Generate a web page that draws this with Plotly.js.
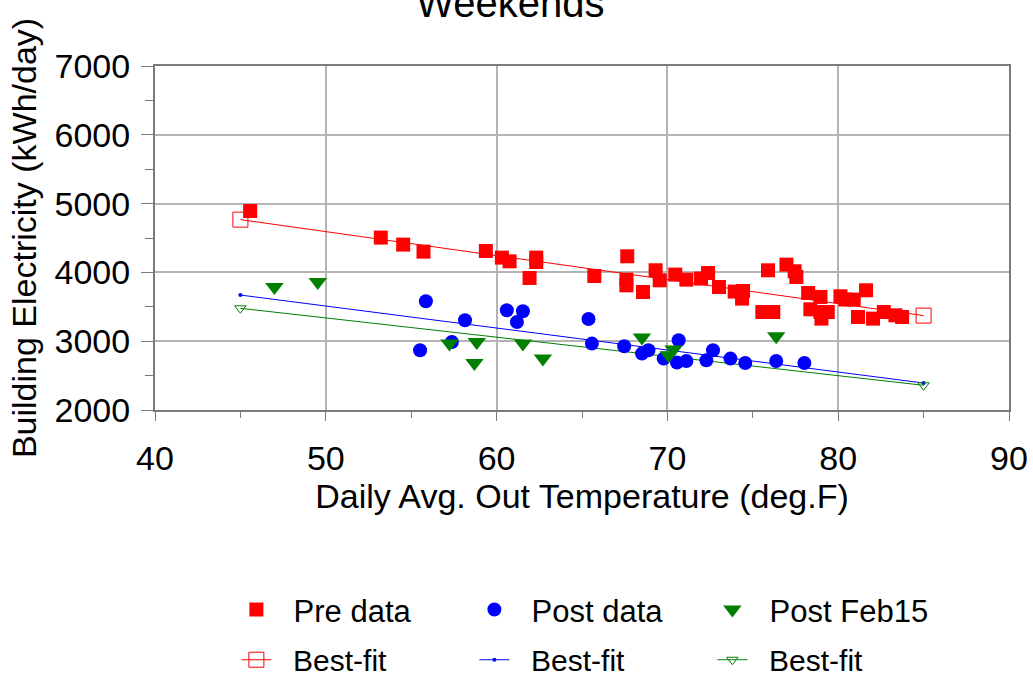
<!DOCTYPE html>
<html>
<head>
<meta charset="utf-8">
<script src="https://cdn.plot.ly/plotly-3.0.1.min.js"></script>
<style>html,body{margin:0;padding:0;background:#fff;}#chart{width:1033px;height:679px;}</style>
</head>
<body>
<div id="chart"></div>
<script>
// Pre data (red squares)
var preX = [45.57,53.22,54.53,55.72,59.37,60.31,60.76,62.32,62.32,61.93,65.72,67.65,67.6,67.6,68.57,69.31,69.55,70.46,71.11,71.97,72.38,73.02,73.94,74.43,74.37,75.89,76.97,77.45,77.55,75.56,76.2,78.24,78.96,78.37,78.96,79.39,79.02,80.13,80.42,80.91,81.63,81.16,82.04,82.67,83.35,83.74];
var preY = [4892,4506,4404,4302,4311,4215,4161,4215,4151,3919,3948,4234,3895,3812,3715,4031,3885,3968,3895,3910,3991,3788,3721,3730,3619,4031,4113,4016,3933,3424,3424,3701,3643,3464,3424,3424,3328,3653,3605,3605,3740,3352,3328,3424,3376,3352];
// Post data (blue circles)
var postX = [55.52,55.86,57.38,58.15,60.6,61.54,61.19,65.38,65.58,67.47,68.51,68.89,69.78,70.56,71.11,70.66,72.28,72.67,73.69,74.56,76.37,78.02];
var postY = [2868,3580,2988,3304,3449,3435,3279,3323,2965,2926,2820,2868,2747,2689,2712,3013,2722,2868,2747,2683,2712,2683];
// Post Feb15 (green triangles)
var febX = [46.99,49.53,57.24,58.84,58.7,61.54,62.71,68.51,70.36,70.07,76.37];
var febY = [3788,3860,2965,2988,2683,2965,2747,3052,2878,2795,3071];
// Best-fit lines
var fitX = [45, 85];
var preFitY = [4767, 3372];
var postFitY = [3671, 2392];
var febFitY = [3478, 2359];
// Legend labels
var seriesNames = ['Pre data', 'Post data', 'Post Feb15'];
var fitName = 'Best-fit';

var FONT = 'Liberation Sans, Arial, sans-serif';
var PAD = '\u00a0\u00a0';

var traces = [
  {x: fitX, y: preFitY, type: 'scatter', mode: 'lines+markers', name: PAD + fitName, legend: 'legend2',
   line: {color: '#ff0000', width: 1}, marker: {symbol: 'square-open', size: 15, color: '#ff0000', line: {width: 1}}},
  {x: fitX, y: postFitY, type: 'scatter', mode: 'lines+markers', name: PAD + fitName, legend: 'legend2',
   line: {color: '#0000ff', width: 1}, marker: {symbol: 'circle', size: 4, color: '#0000ff'}},
  {x: fitX, y: febFitY, type: 'scatter', mode: 'lines+markers', name: PAD + fitName, legend: 'legend2',
   line: {color: '#008000', width: 1}, marker: {symbol: 'triangle-down-open', size: 10, color: '#008000', line: {width: 1}}},
  {x: preX, y: preY, type: 'scatter', mode: 'markers', name: PAD + seriesNames[0], legend: 'legend',
   marker: {symbol: 'square', size: 14, color: '#ff0000'}},
  {x: postX, y: postY, type: 'scatter', mode: 'markers', name: PAD + seriesNames[1], legend: 'legend',
   marker: {symbol: 'circle', size: 14, color: '#0000ff'}},
  {x: febX, y: febY, type: 'scatter', mode: 'markers', name: PAD + seriesNames[2], legend: 'legend',
   marker: {symbol: 'triangle-down', size: 16, color: '#008000'}}
];

var layout = {
  width: 1033, height: 679,
  paper_bgcolor: '#ffffff', plot_bgcolor: '#ffffff',
  margin: {l: 155, r: 24, t: 66, b: 269, autoexpand: false},
  font: {family: FONT, color: '#000000', size: 34},
  title: {text: 'Weekends', font: {family: FONT, size: 40, color: '#000000'}, x: 0.494, xref: 'container', xanchor: 'center', y: 0.996, yref: 'container', yanchor: 'middle'},
  xaxis: {
    range: [40, 90], dtick: 10, tick0: 40,
    showgrid: true, gridcolor: '#b4b4b4', gridwidth: 2,
    showline: true, linecolor: '#7a7a7a', linewidth: 2, mirror: true,
    ticks: 'outside', ticklen: 9, tickwidth: 1, tickcolor: '#7a7a7a',
    minor: {dtick: 5, ticks: 'outside', ticklen: 6, tickcolor: '#7a7a7a', showgrid: false},
    tickfont: {family: FONT, size: 34, color: '#000'},
    ticklabelstandoff: 8,
    zeroline: false,
    title: {text: 'Daily Avg. Out Temperature (deg.F)', font: {family: FONT, size: 34, color: '#000'}, standoff: 8}
  },
  yaxis: {
    range: [2000, 7000], dtick: 1000, tick0: 2000,
    showgrid: true, gridcolor: '#b4b4b4', gridwidth: 2,
    showline: true, linecolor: '#7a7a7a', linewidth: 2, mirror: true,
    ticks: 'outside', ticklen: 12, tickwidth: 1, tickcolor: '#7a7a7a',
    minor: {dtick: 500, ticks: 'outside', ticklen: 8, tickcolor: '#7a7a7a', showgrid: false},
    tickfont: {family: FONT, size: 34, color: '#000'},
    ticklabelstandoff: 4,
    zeroline: false,
    title: {text: 'Building Electricity (kWh/day)', font: {family: FONT, size: 34, color: '#000'}, standoff: 8}
  },
  legend: {
    orientation: 'h', x: 0.0953, xanchor: 'left', y: -0.581, yanchor: 'middle',
    entrywidth: 193, entrywidthmode: 'pixels',
    font: {family: FONT, size: 31, color: '#000'}, bgcolor: 'rgba(0,0,0,0)', traceorder: 'normal'
  },
  legend2: {
    orientation: 'h', x: 0.0953, xanchor: 'left', y: -0.726, yanchor: 'middle',
    entrywidth: 193, entrywidthmode: 'pixels',
    font: {family: FONT, size: 30, color: '#000'}, bgcolor: 'rgba(0,0,0,0)', traceorder: 'normal'
  },
  showlegend: true
};

Plotly.newPlot('chart', traces, layout, {displayModeBar: false, staticPlot: true});
</script>
</body>
</html>
